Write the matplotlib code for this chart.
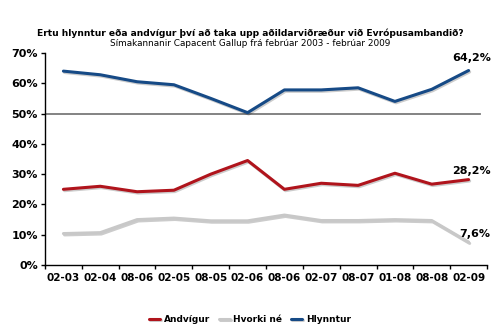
import numpy as np
import matplotlib.pyplot as plt
import matplotlib.patheffects as pe

# Data
dates = ['02-03', '02-04', '08-06', '02-05', '08-05', '02-06',
         '08-06', '02-07', '08-07', '01-08', '08-08', '02-09']
andvigur = [25.0, 26.0, 24.2, 24.7, 30.0, 34.5, 25.0, 27.0, 26.3, 30.3, 26.7, 28.2]
hvorki = [10.4, 10.7, 15.0, 15.5, 14.6, 14.6, 16.5, 14.7, 14.7, 15.0, 14.7, 7.6]
hlynntur = [64.0, 62.8, 60.5, 59.5, 55.0, 50.3, 57.8, 57.8, 58.5, 54.0, 58.0, 64.2]

series = [('Andvígur', andvigur, '#b0141c'),
          ('Hvorki né', hvorki, '#c8c8c8'),
          ('Hlynntur', hlynntur, '#164a86')]

fig = plt.figure(figsize=(5, 3.33), dpi=100)
ax = fig.add_axes([0.09, 0.204, 0.884, 0.637])

x = np.arange(len(dates))
shadow = [pe.SimpleLineShadow(offset=(0.8, -1.0), alpha=0.2, shadow_color='k'), pe.Normal()]

# 50% reference line
ax.axhline(50, xmin=0, xmax=0.985, color='#7a7a7a', lw=1.3, zorder=1)

for name, vals, col in series:
    ax.plot(x, vals, color=col, lw=2.2, label=name, solid_capstyle='round',
            solid_joinstyle='round', path_effects=shadow, zorder=3)

# end labels
for vals, dy in [(hlynntur, 4.0), (andvigur, 2.8), (hvorki, 2.8)]:
    ax.text(x[-1] + 0.6, vals[-1] + dy, ('%.1f%%' % vals[-1]).replace('.', ','),
            ha='right', va='center', fontsize=8, fontweight='bold')

ax.set_xlim(-0.5, len(dates) - 0.5)
ax.set_ylim(0, 70)
ax.set_yticks(range(0, 71, 10))
ax.set_yticklabels(['%d%%' % v for v in range(0, 71, 10)], fontsize=8, fontweight='bold')
ax.set_xticks(x)
ax.set_xticklabels(dates, fontsize=7.5, fontweight='bold')
ax.set_xticks(np.arange(len(dates) + 1) - 0.5, minor=True)
ax.tick_params(axis='x', which='major', length=0, pad=6)
ax.tick_params(axis='x', which='minor', length=3, width=1)
ax.tick_params(axis='y', length=3, width=1, pad=2)
for s in ['top', 'right']:
    ax.spines[s].set_visible(False)
for s in ['left', 'bottom']:
    ax.spines[s].set_linewidth(1)

fig.text(0.5, 0.9, 'Ertu hlynntur eða andvígur því að taka upp aðildarviðræður við Evrópusambandið?',
         ha='center', va='center', fontsize=6.6, fontweight='bold')
fig.text(0.5, 0.869, 'Símakannanir Capacent Gallup frá febrúar 2003 - febrúar 2009',
         ha='center', va='center', fontsize=6.4)

leg = ax.legend(loc='center', bbox_to_anchor=(0.5, 0.04), bbox_transform=fig.transFigure,
                ncol=3, frameon=False, handlelength=1.2, handletextpad=0.4,
                columnspacing=1.0, prop={'weight': 'bold', 'size': 6.5})

fig.savefig('out.png', dpi=100)
